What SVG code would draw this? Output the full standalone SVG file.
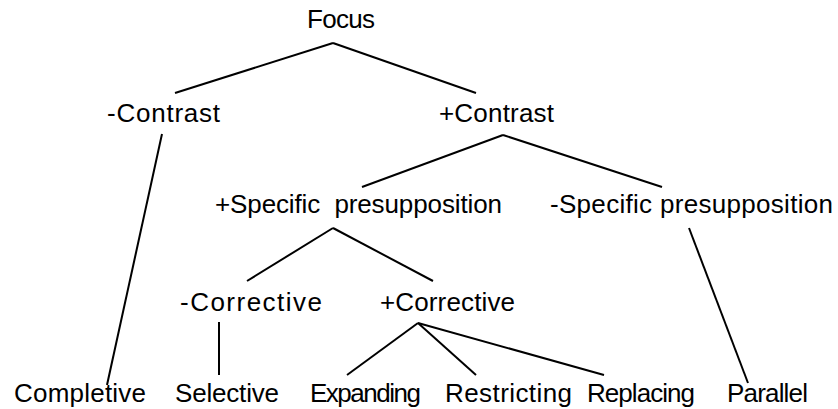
<svg xmlns="http://www.w3.org/2000/svg" width="838" height="409" viewBox="0 0 838 409">
<style>
text{font-family:"Liberation Sans",Arial,sans-serif;font-size:26px;fill:#000}
.c line{stroke:#000;stroke-width:2;stroke-linecap:butt}
</style>
<rect width="838" height="409" fill="#fff"/>
<g class="c" id="connectors">
<line x1="333" y1="43" x2="175" y2="93"/>
<line x1="333" y1="43" x2="476" y2="93"/>
<line x1="162" y1="134" x2="107" y2="385"/>
<line x1="503" y1="135" x2="362" y2="187"/>
<line x1="503" y1="135" x2="662" y2="187"/>
<line x1="333" y1="228" x2="247" y2="281"/>
<line x1="333" y1="228" x2="433" y2="281"/>
<line x1="219" y1="322" x2="219" y2="375"/>
<line x1="418" y1="323" x2="347" y2="375"/>
<line x1="418" y1="323" x2="476" y2="375"/>
<line x1="418" y1="323" x2="604" y2="375"/>
<line x1="689" y1="228" x2="748" y2="383"/>
</g>
<g id="focus"><text x="307" y="28" textLength="68" lengthAdjust="spacing">Focus</text></g>
<g id="minus-contrast"><text x="107" y="122" textLength="113" lengthAdjust="spacing">-Contrast</text></g>
<g id="plus-contrast"><text x="439" y="122" textLength="115" lengthAdjust="spacing">+Contrast</text></g>
<g id="plus-specific"><text x="215" y="213" textLength="287" lengthAdjust="spacing" xml:space="preserve">+Specific  presupposition</text></g>
<g id="minus-specific"><text x="550" y="213" textLength="283" lengthAdjust="spacing">-Specific presupposition</text></g>
<g id="minus-corrective"><text x="180" y="311" textLength="142" lengthAdjust="spacing">-Corrective</text></g>
<g id="plus-corrective"><text x="380" y="311" textLength="135" lengthAdjust="spacing">+Corrective</text></g>
<g id="completive"><text x="14" y="402" textLength="132" lengthAdjust="spacing">Completive</text></g>
<g id="selective"><text x="175" y="402" textLength="104" lengthAdjust="spacing">Selective</text></g>
<g id="expanding"><text x="310" y="402" textLength="111" lengthAdjust="spacing">Expanding</text></g>
<g id="restricting"><text x="445" y="402" textLength="127" lengthAdjust="spacing">Restricting</text></g>
<g id="replacing"><text x="587" y="402" textLength="108" lengthAdjust="spacing">Replacing</text></g>
<g id="parallel"><text x="727" y="402" textLength="81" lengthAdjust="spacing">Parallel</text></g>
</svg>
